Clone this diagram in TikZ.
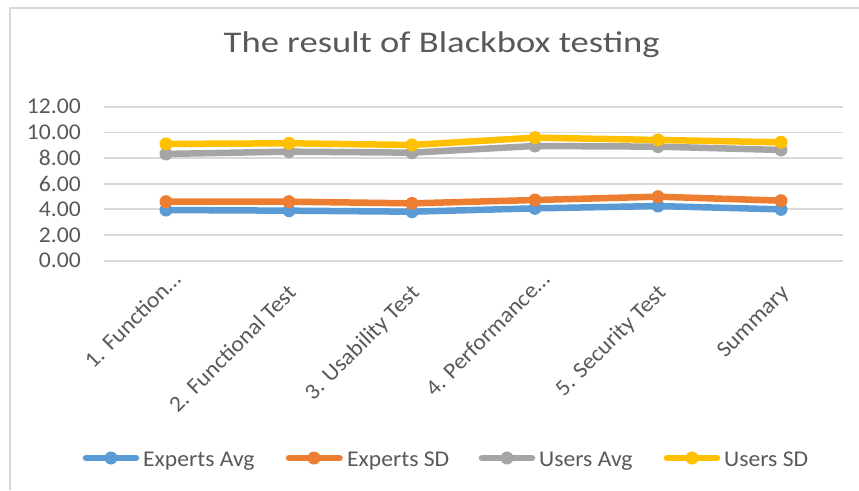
\documentclass[tikz,border=0pt]{standalone}
\usepackage{fontspec}
\setmainfont{Carlito}[FakeStretch=1.05]
\newfontfamily\titlefont{Carlito}[FakeStretch=1.22]
\definecolor{txt}{HTML}{595959}
\definecolor{gridc}{HTML}{D9D9D9}
\definecolor{cblue}{HTML}{5B9BD5}
\definecolor{corange}{HTML}{ED7D31}
\definecolor{cgray}{HTML}{A5A5A5}
\definecolor{cyellow}{HTML}{FFC000}
\newcommand\Y[1]{260.7-12.83*#1}
\begin{document}
\begin{tikzpicture}[x=1pt,y=-1pt,
  gridline/.style={gridc,line width=1.8pt},
  ylab/.style={anchor=east,inner sep=0pt,text=txt,font=\fontsize{22.5}{27}\selectfont},
  xlab/.style={anchor=base east,inner sep=0pt,rotate=45,text=txt,font=\fontsize{22.5}{27}\selectfont},
  leglab/.style={anchor=base west,inner sep=0pt,text=txt,font=\fontsize{22.5}{27}\selectfont},
  serline/.style={line width=6.5pt,line join=round,line cap=round},
  legline/.style={line width=6.5pt,line cap=round}]
\useasboundingbox (0,0) rectangle (859,490);
\fill[white] (0,0) rectangle (859,490);
\draw[gridc,line width=1.5pt] (10,490) -- (10,8) -- (859,8);
% title
\node[anchor=base,inner sep=0pt,text=txt,font=\fontsize{30}{36}\selectfont\titlefont] (title) at (441.7,52) {The result of Blackbox testing};
% grid and y labels
\foreach \v/\lab in {0/0.00,2/2.00,4/4.00,6/6.00,8/8.00,10/10.00,12/12.00}{
  \draw[gridline] (104,{\Y{\v}}) -- (842.7,{\Y{\v}});
  \node[ylab] (yl\v) at (81,{\Y{\v}}) {\lab};
}
% x labels
\node[xlab] (xl1) at (182,281) {1. Function\ldots};
\node[xlab] (xl2) at (297.5,294) {2. Functional Test};
\node[xlab] (xl3) at (420.5,294) {3. Usability Test};
\node[xlab] (xl4) at (551,281) {4. Performance\ldots};
\node[xlab] (xl5) at (667,294) {5. Security Test};
\node[xlab] (xl6) at (790,294) {Summary};
% data coordinates
\foreach \n/\a/\b/\c/\d/\e/\f in {
  b/3.95/3.90/3.82/4.08/4.26/4.00,
  o/4.60/4.60/4.47/4.73/4.99/4.68,
  g/8.32/8.50/8.42/8.94/8.89/8.63,
  y/9.10/9.15/9.02/9.59/9.41/9.23}{
  \coordinate (\n1) at (166,{\Y{\a}});
  \coordinate (\n2) at (289,{\Y{\b}});
  \coordinate (\n3) at (412,{\Y{\c}});
  \coordinate (\n4) at (535,{\Y{\d}});
  \coordinate (\n5) at (658,{\Y{\e}});
  \coordinate (\n6) at (781,{\Y{\f}});
}
\foreach \n/\col in {b/cblue,o/corange,g/cgray,y/cyellow}{
  \draw[serline,\col] (\n1) -- (\n2) -- (\n3) -- (\n4) -- (\n5) -- (\n6);
  \foreach \i in {1,...,6}{\fill[\col] (\n\i) circle (6.5pt);}
}
% legend
\coordinate (lb1) at (86,458); \coordinate (lb2) at (136,458);
\coordinate (lo1) at (289,458); \coordinate (lo2) at (339.5,458);
\coordinate (lg1) at (482,458); \coordinate (lg2) at (532,458);
\coordinate (ly1) at (667,458); \coordinate (ly2) at (717,458);
\draw[legline,cblue] (lb1) -- (lb2); \fill[cblue] (111,458) circle (6.5pt);
\draw[legline,corange] (lo1) -- (lo2); \fill[corange] (314,458) circle (6.5pt);
\draw[legline,cgray] (lg1) -- (lg2); \fill[cgray] (507,458) circle (6.5pt);
\draw[legline,cyellow] (ly1) -- (ly2); \fill[cyellow] (692,458) circle (6.5pt);
\node[leglab] (lt1) at (143,466.5) {Experts Avg};
\node[leglab] (lt2) at (347,466.5) {Experts SD};
\node[leglab] (lt3) at (539,466.5) {Users Avg};
\node[leglab] (lt4) at (724,466.5) {Users SD};
\end{tikzpicture}
\end{document}
